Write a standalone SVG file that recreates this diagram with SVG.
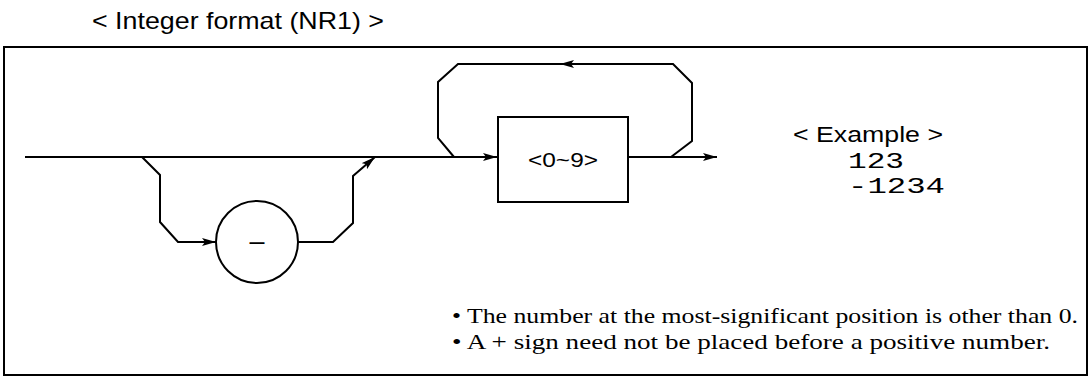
<svg xmlns="http://www.w3.org/2000/svg" width="1090" height="381" viewBox="0 0 1090 381">
<defs>
<style>
.ln{fill:none;stroke:#000;stroke-width:2;stroke-linejoin:miter}
.sans{font-family:"Liberation Sans",Arial,sans-serif;fill:#000}
.serif{font-family:"Liberation Serif","Times New Roman",serif;fill:#000}
.mono{font-family:"Liberation Mono","Courier New",monospace;fill:#000}
</style>
<marker id="ah" viewBox="0 0 14 8" refX="14" refY="4" markerWidth="14" markerHeight="8" markerUnits="userSpaceOnUse" orient="auto">
<path d="M0,0 L14,4 L0,8 L3,4 z" fill="#000"/>
</marker>
</defs>
<rect width="1090" height="381" fill="#fff"/>
<text class="sans" x="92" y="29" font-size="24" textLength="292" lengthAdjust="spacingAndGlyphs">&lt; Integer format (NR1) &gt;</text>
<rect x="4" y="47" width="1083" height="328" class="ln"/>
<g id="connectors">
<path class="ln" d="M25 157 L497 157" marker-end="url(#ah)"/>
<path class="ln" d="M142 157 L160 175 L160 222 L178 242 L216 242" marker-end="url(#ah)"/>
<path class="ln" d="M298 242 L333 242 L353 223 L353 176 L375 157" marker-end="url(#ah)"/>
<path class="ln" d="M454 157 L438 138 L438 82 L458 64 L673 64 L692 83 L692 141 L671 157"/>
<path class="ln" d="M600 64 L560 64" marker-end="url(#ah)"/>
<path class="ln" d="M628 157 L717 157" marker-end="url(#ah)"/>
</g>
<g id="node-minus">
<circle cx="257" cy="242" r="41" class="ln" fill="#fff"/>
<text class="sans" x="257" y="250" font-size="27" text-anchor="middle" textLength="15" lengthAdjust="spacingAndGlyphs">–</text>
</g>
<g id="node-digits">
<rect x="498" y="117" width="130" height="85" class="ln" fill="#fff"/>
<text class="sans" x="563" y="167" font-size="20" text-anchor="middle" textLength="70" lengthAdjust="spacingAndGlyphs">&lt;0~9&gt;</text>
</g>
<g id="example">
<text class="sans" x="793" y="142" font-size="22" textLength="150" lengthAdjust="spacingAndGlyphs">&lt; Example &gt;</text>
<text class="mono" x="848" y="168" font-size="22" textLength="56" lengthAdjust="spacingAndGlyphs">123</text>
<text class="mono" x="848" y="193" font-size="22" textLength="97" lengthAdjust="spacingAndGlyphs">-1234</text>
</g>
<g id="notes">
<text class="serif" x="452" y="323" font-size="22" textLength="626" lengthAdjust="spacingAndGlyphs">• The number at the most-significant position is other than 0.</text>
<text class="serif" x="452" y="349" font-size="22" textLength="598" lengthAdjust="spacingAndGlyphs">• A + sign need not be placed before a positive number.</text>
</g>
</svg>
